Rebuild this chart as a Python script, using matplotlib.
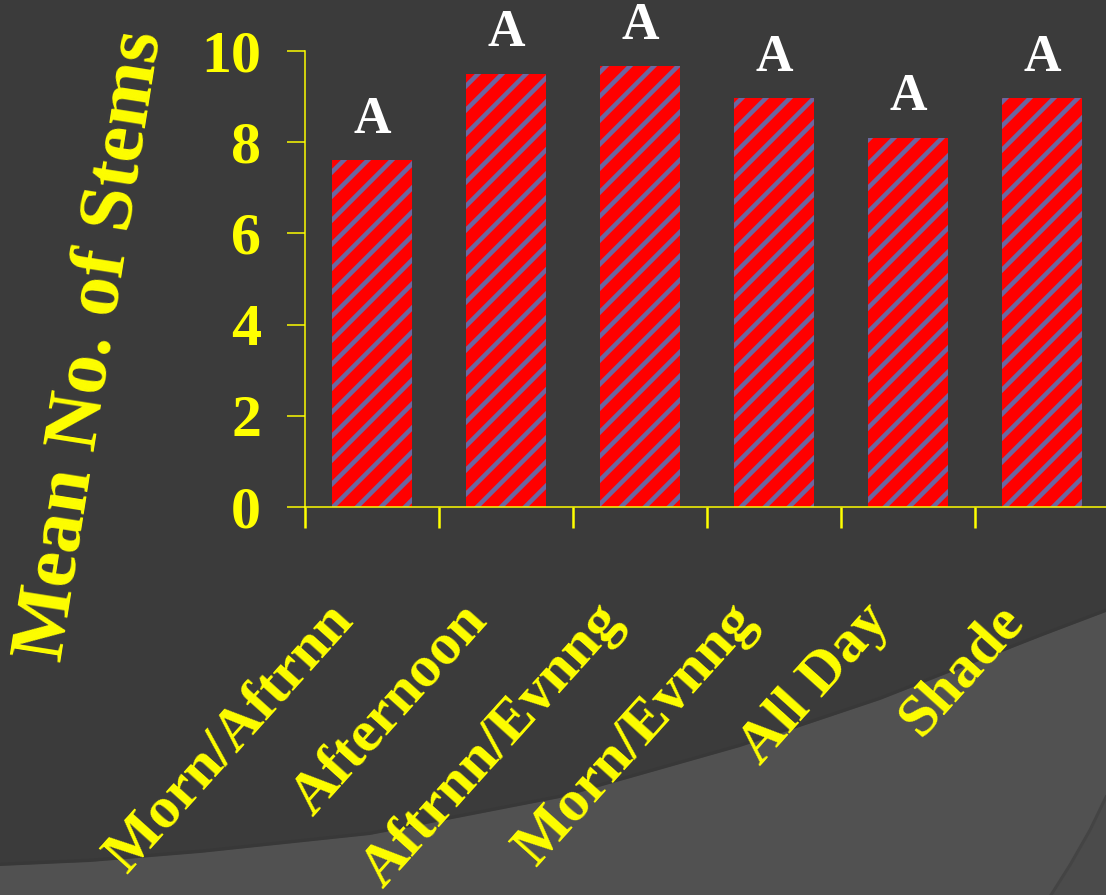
import numpy as np
import matplotlib
matplotlib.use("Agg")
import matplotlib.pyplot as plt
from matplotlib.patches import Polygon
import matplotlib.transforms as mtransforms

categories = ["Morn/Aftrnn", "Afternoon", "Aftrnn/Evnng", "Morn/Evnng", "All Day", "Shade"]
means = [7.6, 9.5, 9.67, 8.97, 8.1, 8.97]
letters = ["A", "A", "A", "A", "A", "A"]
yticks = [0, 2, 4, 6, 8, 10]

W, H = 1106, 895
DPI = 72
plt.rcParams["hatch.linewidth"] = 4.5
plt.rcParams["font.family"] = ["Liberation Serif", "DejaVu Serif"]

fig = plt.figure(figsize=(W / DPI, H / DPI), dpi=DPI)
fig.patch.set_facecolor("#3b3b3b")

# decorative background curve (lighter lower region)
bx = np.array([0, 90, 200, 370, 560, 740, 880, 1040, 1106])
by = np.array([866, 862, 853, 835, 798, 747, 700, 637, 612])
xs = np.linspace(0, W, 300)
ys = np.interp(xs, bx, by)
pts = [(x / W, 1 - y / H) for x, y in zip(xs, ys)] + [(1, 0), (0, 0)]
fig.patches.append(Polygon(pts, closed=True, transform=fig.transFigure,
                           facecolor="#515151", edgecolor="none", zorder=-10))
fig.lines.append(plt.Line2D(xs / W, 1 - ys / H + 0.002, transform=fig.transFigure,
                            color="#363636", lw=3, alpha=0.6, zorder=-9))
# second curve bottom right
cx = np.array([1106, 1090, 1070, 1051])
cy = np.array([797, 830, 865, 895])
pts2 = [(x / W, 1 - y / H) for x, y in zip(cx, cy)] + [(1, 0)]
fig.patches.append(Polygon(pts2, closed=True, transform=fig.transFigure,
                           facecolor="#4b4b4b", edgecolor="none", zorder=-9))
fig.lines.append(plt.Line2D(cx / W, 1 - cy / H, transform=fig.transFigure,
                            color="#444444", lw=3, zorder=-8))

left, right, top, bottom = 305, 1109, 51, 507
ax = fig.add_axes([left / W, 1 - bottom / H, (right - left) / W, (bottom - top) / H])
ax.set_facecolor("none")

x = np.arange(len(categories))
bars = ax.bar(x, means, width=0.6, color="#ff0000", edgecolor="#6c66a0",
              linewidth=0, hatch="/", zorder=2)

ax.set_xlim(-0.5, len(categories) - 0.5)
ax.set_ylim(0, 10)

yellow = "#ffff00"
for s in ["top", "right"]:
    ax.spines[s].set_visible(False)
for s in ["left", "bottom"]:
    ax.spines[s].set_color(yellow)
    ax.spines[s].set_linewidth(1.5)

ax.set_yticks(yticks)
ax.set_yticklabels([str(v) for v in yticks], fontsize=60, fontweight="bold", color=yellow)
ax.tick_params(axis="y", direction="out", length=18, width=1.5, color=yellow, pad=26)

ax.set_xticks(x)
ax.set_xticklabels([])
ax.tick_params(axis="x", which="major", length=0)
ax.set_xticks(np.arange(len(categories) + 1) - 0.5, minor=True)
ax.tick_params(axis="x", which="minor", direction="out", length=21, width=2.5, color=yellow)

# rotated category labels
trans = ax.get_xaxis_transform()
for xi, lab in zip(x, categories):
    off = mtransforms.ScaledTranslation(-32 / DPI, 0, fig.dpi_scale_trans)
    ax.text(xi, -(608 - bottom) / (bottom - top), lab, transform=trans + off,
            rotation=48, rotation_mode="anchor", ha="right", va="center_baseline",
            fontsize=60, fontweight="bold", color=yellow, clip_on=False)

# significance letters
for xi, v, l in zip(x, means, letters):
    ax.text(xi, v + 0.6, l, ha="center", va="baseline", fontsize=52,
            fontweight="bold", color="white", clip_on=False)

fig.text(92 / W, 1 - 346 / H, "Mean No. of Stems", rotation=81, rotation_mode="anchor",
         ha="center", va="center", fontsize=79, fontweight="bold", color=yellow)

fig.savefig("out.png", dpi=DPI, facecolor=fig.get_facecolor())
